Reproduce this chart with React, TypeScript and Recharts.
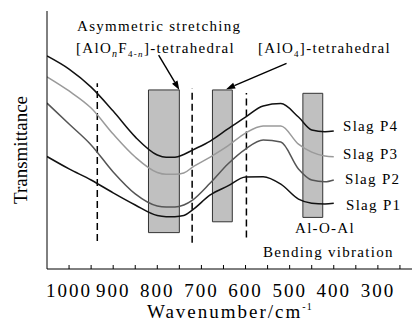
import React from "react"
import { LineChart, Line, XAxis, YAxis, ReferenceArea, ReferenceLine } from "recharts"

// FTIR transmittance of the four slags (arbitrary units, offset per curve)
const wavenumbers = [1050, 1000, 950, 900, 850, 800, 780, 760, 740, 720, 680, 640, 600, 560, 520, 480, 450, 420, 400]
const slagP4 = [82.6, 77.5, 70.5, 61.2, 51.2, 44.2, 43.3, 43.3, 44.4, 46.1, 49.6, 54.3, 58.9, 63.2, 64.1, 58.9, 53.9, 53.2, 53.5]
const slagP3 = [74.5, 69.0, 62.4, 52.3, 43.4, 37.4, 36.7, 36.7, 37.2, 39.5, 43.4, 47.7, 52.7, 55.4, 55.4, 48.4, 45.3, 43.8, 43.5]
const slagP2 = [64.3, 56.2, 48.1, 37.6, 29.1, 24.4, 24.0, 24.0, 24.8, 26.7, 33.3, 40.7, 46.5, 50.0, 49.2, 38.8, 34.5, 33.8, 34.5]
const slagP1 = [43.6, 38.8, 34.5, 29.5, 24.8, 20.7, 20.3, 20.3, 20.7, 22.9, 28.7, 32.2, 35.7, 35.8, 32.9, 27.1, 25.5, 25.2, 25.5]

const xTicks = [1000, 950, 900, 850, 800, 750, 700, 650, 600, 550, 500, 450, 400, 350, 300, 250]
const yTicks = [0, 4, 8, 12, 16, 20, 24, 28, 32, 36, 40, 44, 48, 52, 56, 60, 64, 68, 72, 76, 80, 84, 88, 92, 96, 100]

// absorption bands: [from, to, bottom, top]
const bands = [
  [820, 750, 14.1, 69.4],
  [675, 630, 18.3, 69.4],
  [470, 425, 20.0, 68.1],
]
// dashed guides: [wavenumber, bottom, top]
const guides = [
  [936, 10.9, 72.0],
  [721, 10.2, 70.0],
  [598, 12.2, 68.2],
]
// arrows: [fromWn, fromY, toWn, toY]
const arrows = [
  [797, 82.9, 750, 69.4],
  [507, 79.7, 644, 69.7],
]

const data = wavenumbers.map((wn, i) => ({
  wn,
  p4: slagP4[i],
  p3: slagP3[i],
  p2: slagP2[i],
  p1: slagP1[i],
}))

const FONT = "Liberation Serif, Times New Roman, serif"

const BottomTick = (props: any) => {
  const { x, y, payload } = props
  if (payload.value % 100 !== 0) return <g />
  return (
    <text x={x} y={y + 27.5} textAnchor="middle" style={{ fontFamily: FONT, fontSize: 19, letterSpacing: 2 }} fill="#000">
      {payload.value}
    </text>
  )
}

const Arrow = (props: any) => {
  const { x1, y1, x2, y2 } = props
  const ang = Math.atan2(y2 - y1, x2 - x1)
  const len = 9
  const half = 3.2
  const bx = x2 - len * Math.cos(ang)
  const by = y2 - len * Math.sin(ang)
  const px = -Math.sin(ang) * half
  const py = Math.cos(ang) * half
  return (
    <g>
      <line x1={x1} y1={y1} x2={bx} y2={by} stroke="#000" strokeWidth={1.4} />
      <polygon points={`${x2},${y2} ${bx + px},${by + py} ${bx - px},${by - py}`} fill="#000" />
    </g>
  )
}

export default function App() {
  const txt = { style: { fontFamily: FONT, fontSize: 15, letterSpacing: 1.3 }, fill: "#000" }
  return (
    <div style={{ position: "fixed", left: 0, top: 0, width: 412, height: 322, overflow: "hidden", background: "#fff" }}>
      <LineChart width={430} height={322} data={data} margin={{ top: 11, right: 8, bottom: 0, left: 0 }}>
        <XAxis
          dataKey="wn"
          type="number"
          domain={[200, 1050]}
          reversed
          allowDataOverflow
          ticks={xTicks}
          tick={<BottomTick />}
          tickSize={-4}
          tickMargin={4}
          height={53}
          stroke="#000"
          interval={0}
        />
        <XAxis
          xAxisId="top"
          orientation="top"
          dataKey="wn"
          type="number"
          domain={[200, 1050]}
          reversed
          allowDataOverflow
          ticks={xTicks}
          tick={false}
          tickSize={-4}
          height={0}
          stroke="#000"
          interval={0}
        />
        <YAxis
          type="number"
          domain={[0, 100]}
          ticks={yTicks}
          tick={false}
          tickSize={-4}
          width={47}
          stroke="#000"
          interval={0}
        />
        {bands.map(([a, b, lo, hi], i) => (
          <ReferenceArea
            key={"band" + i}
            x1={a}
            x2={b}
            y1={lo}
            y2={hi}
            fill="#c0c0c0"
            fillOpacity={1}
            stroke="#333"
            strokeWidth={1}
          />
        ))}
        {guides.map(([wn, lo, hi], i) => (
          <ReferenceLine
            key={"guide" + i}
            segment={[{ x: wn, y: lo }, { x: wn, y: hi }]}
            stroke="#000"
            strokeWidth={1.5}
            strokeDasharray="7 4"
          />
        ))}
        <Line type="monotone" dataKey="p4" stroke="#111" strokeWidth={1.5} dot={false} isAnimationActive={false} />
        <Line type="monotone" dataKey="p3" stroke="#9a9a9a" strokeWidth={1.5} dot={false} isAnimationActive={false} />
        <Line type="monotone" dataKey="p2" stroke="#555" strokeWidth={1.5} dot={false} isAnimationActive={false} />
        <Line type="monotone" dataKey="p1" stroke="#111" strokeWidth={1.5} dot={false} isAnimationActive={false} />
        {arrows.map(([a, ay, b, by], i) => (
          <ReferenceLine
            key={"arrow" + i}
            segment={[{ x: a, y: ay }, { x: b, y: by }]}
            shape={<Arrow />}
          />
        ))}
      </LineChart>
      <svg width={412} height={322} style={{ position: "absolute", left: 0, top: 0, pointerEvents: "none" }}>
        <text x={77} y={31} {...txt}>Asymmetric stretching</text>
        <text x={76} y={53} {...txt}>
          [AlO
          <tspan fontSize={10} fontStyle="italic" dy={4}>n</tspan>
          <tspan dy={-4}>F</tspan>
          <tspan fontSize={9} dy={4}>4-</tspan>
          <tspan fontSize={9} fontStyle="italic">n</tspan>
          <tspan dy={-4}>]-tetrahedral</tspan>
        </text>
        <text x={258} y={53} {...txt}>
          [AlO
          <tspan fontSize={9} dy={4}>4</tspan>
          <tspan dy={-4}>]-tetrahedral</tspan>
        </text>
        <text x={343} y={131} {...txt}>Slag P4</text>
        <text x={343} y={159} {...txt}>Slag P3</text>
        <text x={345} y={184} {...txt}>Slag P2</text>
        <text x={346} y={210} {...txt}>Slag P1</text>
        <text x={295} y={233} {...txt}>Al-O-Al</text>
        <text x={263} y={257} {...txt}>Bending vibration</text>
        <text x={147} y={318} style={{ fontFamily: FONT, fontSize: 19, letterSpacing: 2 }} fill="#000">
          Wavenumber/cm
          <tspan style={{ fontSize: 10, letterSpacing: 1 }} dy={-8}>-1</tspan>
        </text>
        <text
          x={27}
          y={150}
          transform="rotate(-90 27 150)"
          textAnchor="middle"
          style={{ fontFamily: FONT, fontSize: 19 }}
          fill="#000"
        >
          Transmittance
        </text>
      </svg>
    </div>
  )
}
